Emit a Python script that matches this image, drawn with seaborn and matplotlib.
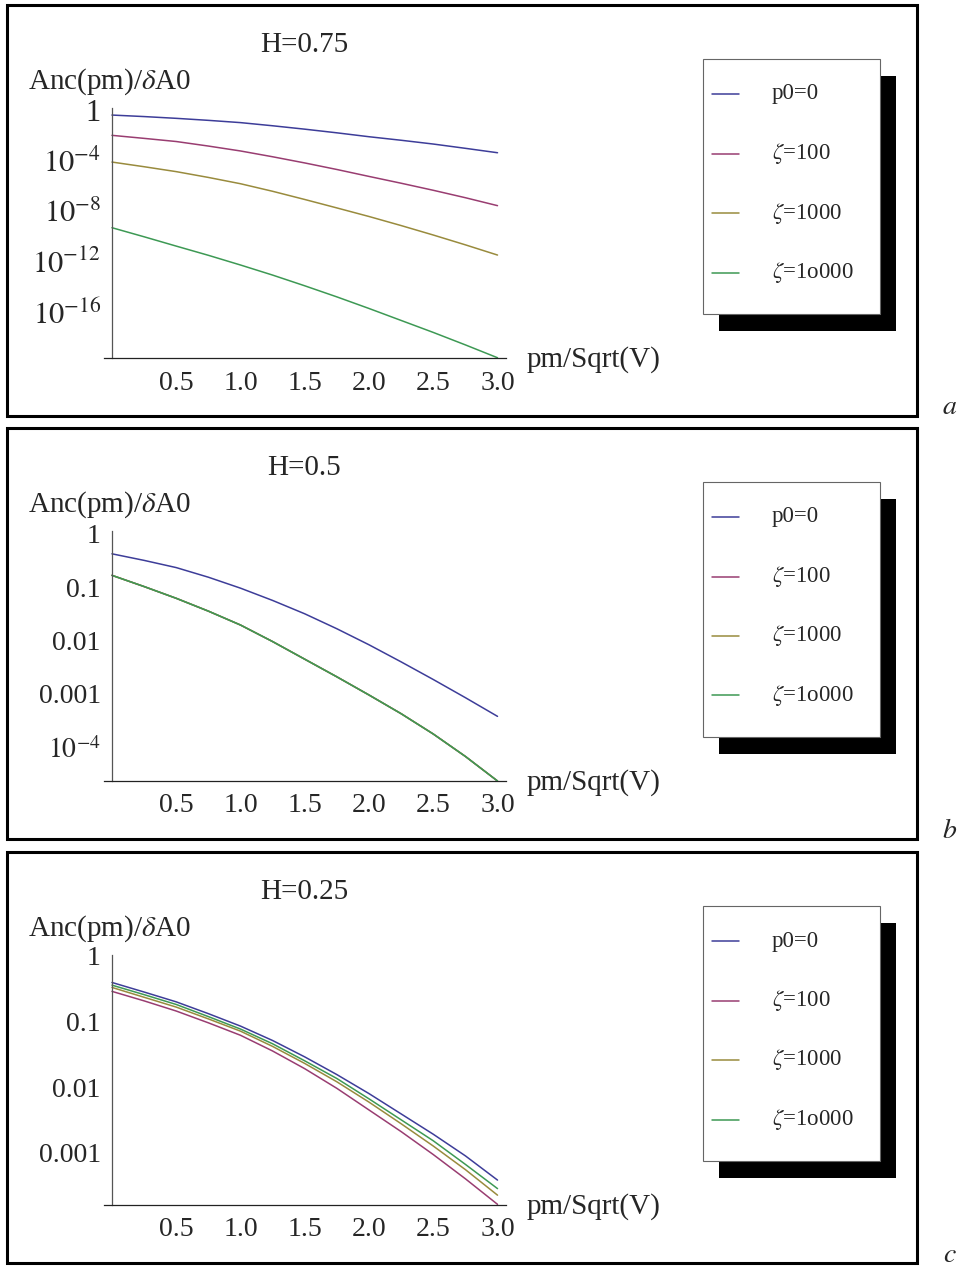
import numpy as np
import pandas as pd
import matplotlib
matplotlib.use('Agg')
import matplotlib.pyplot as plt
from matplotlib.patches import Rectangle
from matplotlib.lines import Line2D
from matplotlib.ticker import FixedLocator, FixedFormatter, MultipleLocator, LogLocator, NullFormatter
import seaborn as sns

# x grid (pm/Sqrt(V)) and series
x_vals = [0.0, 0.25, 0.5, 0.75, 1.0, 1.25, 1.5, 1.75, 2.0, 2.25, 2.5, 2.75, 3.0]
series_names = ['p0=0', r'$\zeta$=100', r'$\zeta$=1000', r'$\zeta$=1o000']
series_colors = ['#3d3d99', '#993d71', '#998b3d', '#3d9954']

# log10(Anc(pm)/dA0)
h075_p0 = [-0.40, -0.52, -0.66, -0.82, -1.00, -1.25, -1.52, -1.81, -2.12, -2.40, -2.70, -3.04, -3.39]
h075_z100 = [-2.01, -2.25, -2.50, -2.86, -3.25, -3.71, -4.20, -4.72, -5.27, -5.81, -6.37, -6.96, -7.59]
h075_z1000 = [-4.13, -4.50, -4.89, -5.35, -5.85, -6.45, -7.10, -7.77, -8.45, -9.17, -9.92, -10.70, -11.51]
h075_z10000 = [-9.34, -10.06, -10.80, -11.53, -12.30, -13.10, -13.95, -14.83, -15.75, -16.70, -17.65, -18.64, -19.66]

h05_p0 = [-0.377, -0.50, -0.635, -0.815, -1.02, -1.25, -1.50, -1.78, -2.08, -2.40, -2.73, -3.07, -3.42]
h05_z100 = [-0.78, -0.99, -1.21, -1.45, -1.71, -2.02, -2.35, -2.68, -3.02, -3.37, -3.75, -4.17, -4.63]
h05_z1000 = [-0.78, -0.99, -1.21, -1.45, -1.71, -2.02, -2.35, -2.68, -3.02, -3.37, -3.75, -4.17, -4.63]
h05_z10000 = [-0.78, -0.99, -1.21, -1.45, -1.71, -2.02, -2.35, -2.68, -3.02, -3.37, -3.75, -4.17, -4.63]

h025_p0 = [-0.404, -0.55, -0.70, -0.88, -1.07, -1.29, -1.54, -1.81, -2.10, -2.41, -2.72, -3.05, -3.42]
h025_z100 = [-0.54, -0.685, -0.84, -1.02, -1.21, -1.45, -1.72, -2.02, -2.35, -2.68, -3.03, -3.40, -3.79]
h025_z1000 = [-0.48, -0.63, -0.78, -0.96, -1.147, -1.38, -1.64, -1.92, -2.23, -2.56, -2.90, -3.26, -3.65]
h025_z10000 = [-0.445, -0.59, -0.74, -0.925, -1.115, -1.34, -1.60, -1.87, -2.18, -2.50, -2.82, -3.18, -3.55]

titles = ['H=0.75', 'H=0.5', 'H=0.25']
letters = ['$a$', '$b$', '$c$']
ylims_exp = [(-19.68, 0.16), (-4.63, 0.05), (-3.80, 0.015)]
ytick_exp = [[0, -4, -8, -12, -16], [0, -1, -2, -3, -4], [0, -1, -2, -3]]
ytick_lbl = [['1', '$10^{-4}$', '$10^{-8}$', '$10^{-12}$', '$10^{-16}$'],
             ['1', '0.1', '0.01', '0.001', '$10^{-4}$'],
             ['1', '0.1', '0.01', '0.001']]
xtick_vals = [0.5, 1.0, 1.5, 2.0, 2.5, 3.0]
xtick_lbl = ['0.5', '1.0', '1.5', '2.0', '2.5', '3.0']

panel_data = [
    [h075_p0, h075_z100, h075_z1000, h075_z10000],
    [h05_p0, h05_z100, h05_z1000, h05_z10000],
    [h025_p0, h025_z100, h025_z1000, h025_z10000],
]

sns.set_style('white')
plt.rcParams['font.family'] = ['Liberation Serif', 'DejaVu Serif']
plt.rcParams['mathtext.fontset'] = 'stix'

W, H = 962, 1267
fig = plt.figure(figsize=(W / 100, H / 100), dpi=100)


def fx(px):
    return px / W


def fy(py):
    return 1 - py / H


offsets = [0, 423, 847]

for k in range(3):
    off = offsets[k]

    # panel frame
    fig.add_artist(Rectangle((fx(7), fy(416 + off)), (917 - 7) / W, (416 - 5) / H,
                             transform=fig.transFigure, fill=False,
                             edgecolor='black', lw=2.2))

    ax = fig.add_axes([fx(104), fy(358 + off), (506 - 104) / W, (358 - 108) / H])
    ax.patch.set_alpha(0)

    rows = []
    for name, vals in zip(series_names, panel_data[k]):
        for xv, v in zip(x_vals, vals):
            rows.append({'x': xv, 'y': 10 ** v, 'series': name})
    df = pd.DataFrame(rows)
    ax.set_yscale('log')
    sns.lineplot(data=df, x='x', y='y', hue='series', hue_order=series_names,
                 palette=series_colors, legend=False, ax=ax, linewidth=1.1)

    ax.set_xlim(-0.062, 3.066)
    lo, hi = ylims_exp[k]
    ax.set_ylim(10 ** lo, 10 ** hi)
    ax.set_xlabel('')
    ax.set_ylabel('')

    for s in ['top', 'right']:
        ax.spines[s].set_visible(False)
    ax.spines['left'].set_position(('data', 0))
    ax.spines['left'].set_color('#555555')
    ax.spines['bottom'].set_color('#222222')
    ax.spines['left'].set_linewidth(0.9)
    ax.spines['bottom'].set_linewidth(0.9)

    ax.xaxis.set_major_locator(FixedLocator(xtick_vals))
    ax.xaxis.set_major_formatter(FixedFormatter(xtick_lbl))
    ax.xaxis.set_minor_locator(MultipleLocator(0.1))
    ax.yaxis.set_major_locator(FixedLocator([10.0 ** e for e in ytick_exp[k]]))
    ax.yaxis.set_major_formatter(FixedFormatter(ytick_lbl[k]))
    if k == 0:
        ax.yaxis.set_minor_locator(FixedLocator([10.0 ** e for e in range(-19, 0)]))
    else:
        ax.yaxis.set_minor_locator(LogLocator(base=10, subs=np.arange(2, 10), numticks=50))
    ax.yaxis.set_minor_formatter(NullFormatter())

    ax.tick_params(axis='x', which='major', direction='in', length=6, width=0.9,
                   color='#444444', labelsize=20, pad=9)
    ax.tick_params(axis='x', which='minor', direction='in', length=3.5, width=0.8,
                   color='#444444')
    ax.tick_params(axis='y', which='major', direction='in', length=6, width=0.9,
                   color='#444444', labelsize=22 if k == 0 else 20, pad=8)
    ax.tick_params(axis='y', which='minor', direction='in', length=2.5, width=0.6,
                   color='#666666')

    # texts
    fig.text(fx(304), fy(45 + off), titles[k], ha='center', va='center', fontsize=21)
    fig.text(fx(28), fy(82 + off), r'Anc(pm)/$\delta$A0', ha='left', va='center', fontsize=21)
    fig.text(fx(527), fy(360 + off), 'pm/Sqrt(V)', ha='left', va='center', fontsize=21)
    fig.text(fx(950), fy(408 + off), letters[k], ha='center', va='center', fontsize=20)

    # legend box with solid shadow
    fig.add_artist(Rectangle((fx(719), fy(331 + off)), (896 - 719) / W, (331 - 76) / H,
                             transform=fig.transFigure, facecolor='black', edgecolor='none'))
    fig.add_artist(Rectangle((fx(703), fy(314 + off)), (880 - 703) / W, (314 - 59) / H,
                             transform=fig.transFigure, facecolor='white',
                             edgecolor='#666666', lw=0.8))
    for i, (name, col) in enumerate(zip(series_names, series_colors)):
        yy = fy(94 + 59.5 * i + off)
        fig.add_artist(Line2D([fx(712), fx(739)], [yy, yy], transform=fig.transFigure,
                              color=col, lw=1.1))
        fig.text(fx(772), yy, name, ha='left', va='center', fontsize=16.5)

fig.savefig('out.png', dpi=100)
